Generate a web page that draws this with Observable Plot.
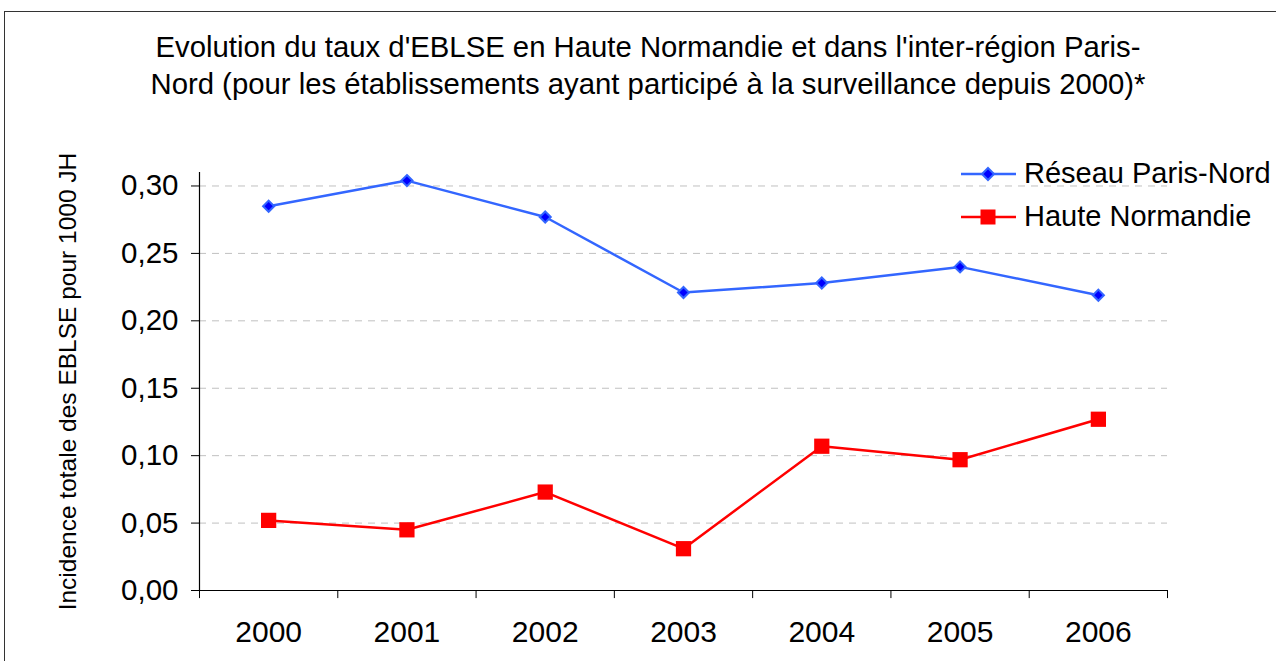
<!DOCTYPE html>
<html>
<head>
<meta charset="utf-8">
<script src="https://cdn.jsdelivr.net/npm/d3@7"></script>
<script src="https://cdn.jsdelivr.net/npm/@observablehq/plot@0.6"></script>
<style>
  html, body { margin: 0; padding: 0; background: #fff; }
  body { width: 1276px; height: 661px; overflow: hidden; font-family: "Liberation Sans", Arial, sans-serif; }
  #wrap { position: relative; width: 1276px; height: 661px; }
  #frame { position: absolute; left: 4px; top: 11px; width: 1290px; height: 700px; border: 1.5px solid #333; box-sizing: border-box; }
  #title { position: absolute; left: 0; top: 28px; width: 1296px; text-align: center; font-size: 29.3px; line-height: 37px; color: #000; }
  #legend { position: absolute; left: 960px; top: 152px; font-size: 29px; color: #000; }
  .row { display: flex; align-items: center; height: 43px; }
  .row svg { margin-right: 6px; }
  #chart { position: absolute; left: 0; top: 0; }
</style>
</head>
<body>
<div id="wrap">
  <div id="frame"></div>
  <div id="chart"></div>
  <div id="title">Evolution du taux d'EBLSE en Haute Normandie et dans l'inter-région Paris-<br>Nord (pour les établissements ayant participé à la surveillance depuis 2000)*</div>
  <div id="legend"></div>
</div>
<script>
const years = [2000, 2001, 2002, 2003, 2004, 2005, 2006];
const reseauParisNord = [0.285, 0.304, 0.277, 0.221, 0.228, 0.240, 0.219];
const hauteNormandie = [0.052, 0.045, 0.073, 0.031, 0.107, 0.097, 0.127];
const yTicks = [0, 0.05, 0.10, 0.15, 0.20, 0.25, 0.30];
const seriesNames = ["Réseau Paris-Nord", "Haute Normandie"];
const yLabel = "Incidence totale des EBLSE pour 1000 JH";

const blueLine = "#3366ff", blueFill = "#0000ff";
const red = "#ff0000";

const dataRPN = years.map((y, i) => ({year: y, value: reseauParisNord[i]}));
const dataHN = years.map((y, i) => ({year: y, value: hauteNormandie[i]}));
const boundaries = [years[0] - 0.5, ...years.map(y => y + 0.5)];
const fmt = d => d3.format(".2f")(d).replace(".", ",");

const chart = Plot.plot({
  width: 1276,
  height: 661,
  marginTop: 172,
  marginBottom: 71,
  marginLeft: 199,
  marginRight: 109,
  style: {fontFamily: "'Liberation Sans', Arial, sans-serif", background: "transparent", overflow: "visible"},
  x: {domain: [years[0] - 0.5, years[years.length - 1] + 0.5]},
  y: {domain: [0, 0.31]},
  marks: [
    Plot.ruleY(yTicks.slice(1), {stroke: "#c0c0c0", strokeWidth: 1, strokeDasharray: "7,6"}),
    Plot.axisY({ticks: yTicks, tickFormat: fmt, tickSize: 8, tickPadding: 13, fontSize: 29.5, color: "#000", label: null}),
    Plot.axisX({ticks: years, tickFormat: d => String(d), tickSize: 0, tickPadding: 30, fontSize: 30, color: "#000", label: null}),
    Plot.ruleX(boundaries, {y1: 0, y2: -0.006, stroke: "#000", strokeWidth: 1}),
    Plot.ruleX([boundaries[0]], {y1: 0, y2: 0.31, stroke: "#000", strokeWidth: 1.2}),
    Plot.ruleY([0], {stroke: "#000", strokeWidth: 1.2}),
    Plot.text([yLabel], {frameAnchor: "left", dx: -131, rotate: -90, fontSize: 24.5, fill: "#000", text: d => d, textAnchor: "middle"}),
    Plot.line(dataRPN, {x: "year", y: "value", stroke: blueLine, strokeWidth: 2.5}),
    Plot.dot(dataRPN, {x: "year", y: "value", symbol: "diamond2", r: 5, fill: blueFill, stroke: blueLine, strokeWidth: 2}),
    Plot.line(dataHN, {x: "year", y: "value", stroke: red, strokeWidth: 2.5}),
    Plot.dot(dataHN, {x: "year", y: "value", symbol: "square", r: 8.6, fill: red, stroke: "none"})
  ]
});
document.getElementById("chart").appendChild(chart);

// legend
const legend = d3.select("#legend");
const swatches = [
  {name: seriesNames[0], stroke: blueLine, fill: blueFill, shape: "diamond"},
  {name: seriesNames[1], stroke: red, fill: red, shape: "square"}
];
swatches.forEach(s => {
  const row = legend.append("div").attr("class", "row");
  const svg = row.append("svg").attr("width", 58).attr("height", 20);
  svg.append("line").attr("x1", 1).attr("x2", 56).attr("y1", 10).attr("y2", 10).attr("stroke", s.stroke).attr("stroke-width", 2.5);
  if (s.shape === "diamond") {
    svg.append("path").attr("d", "M28,4L34,10L28,16L22,10Z").attr("fill", s.fill).attr("stroke", s.stroke).attr("stroke-width", 2);
  } else {
    svg.append("rect").attr("x", 20.5).attr("y", 2.5).attr("width", 15).attr("height", 15).attr("fill", s.fill);
  }
  row.append("span").text(s.name);
});
</script>
</body>
</html>
